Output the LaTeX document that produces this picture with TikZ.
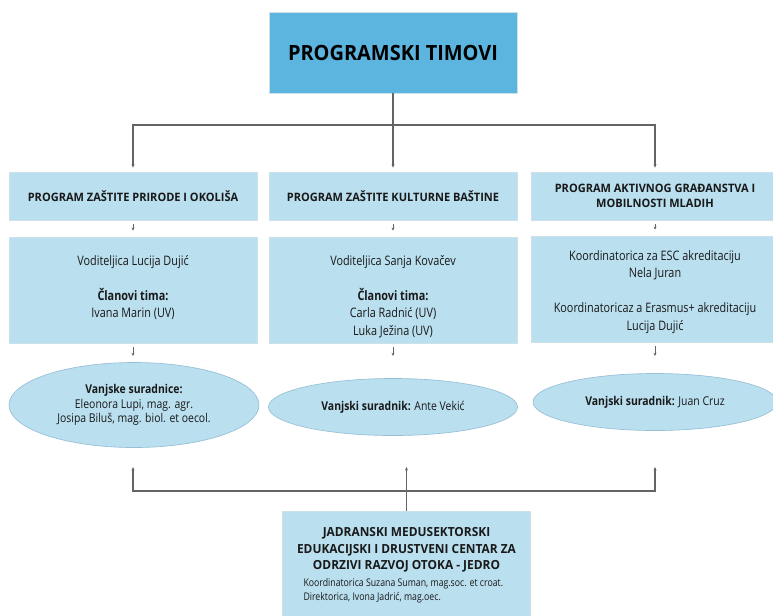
\documentclass[tikz,border=0pt]{standalone}
\usepackage{fontspec}
\setmainfont{Open Sans}[FakeStretch=0.83]
\newfontfamily\headfont{Open Sans}[FakeStretch=0.95]
\newfontfamily\ovalfont{Open Sans}[FakeStretch=0.86]
\usetikzlibrary{arrows.meta,shapes.geometric}

\definecolor{titleblue}{RGB}{91,181,222}
\definecolor{paleblue}{RGB}{186,223,239}
\definecolor{rimblue}{RGB}{205,225,235}
\definecolor{ovalrim}{RGB}{150,192,214}
\definecolor{linkgray}{RGB}{100,100,100}
\definecolor{ink}{RGB}{25,25,25}

\tikzset{every picture/.style={line width=0.75pt}}
\tikzset{
  titlebox/.style={draw=rimblue, fill=titleblue, line width=0.5pt, inner sep=0pt,
    minimum width=186pt, minimum height=60.75pt, text=black,
    font=\headfont\bfseries\fontsize{15.75}{18}\selectfont},
  progbox/.style={draw=rimblue, fill=paleblue, line width=0.5pt, inner sep=0pt,
    minimum width=186pt, minimum height=36pt, align=center, text=ink,
    font=\headfont\bfseries\fontsize{8.7}{11}\selectfont},
  teambox/.style={draw=rimblue, fill=paleblue, line width=0.5pt, inner sep=0pt,
    minimum width=186pt, minimum height=79.5pt},
  teamtext/.style={anchor=north, inner sep=0pt, align=center, text=ink,
    font=\fontsize{9.8}{13.1}\selectfont},
  oval/.style={ellipse, draw=ovalrim, fill=paleblue, line width=0.5pt, inner sep=0pt,
    align=center, text=ink, font=\ovalfont\fontsize{9.1}{10.9}\selectfont},
  linkline/.style={draw=linkgray, line width=0.9pt},
  tiparrow/.style={linkline, -{Stealth[length=2.6pt,width=2.2pt]}},
  tinyarrow/.style={draw=linkgray, line width=0.6pt, -{Stealth[length=2.4pt,width=2.2pt]}, shorten <=3pt}
}

\begin{document}
\begin{tikzpicture}[x=0.75pt,y=0.75pt,yscale=-1,xscale=1]
\useasboundingbox (0,0) rectangle (773,615);

%Shape: Rectangle [top]
\node[titlebox] (top) at (393,52.5) {PROGRAMSKI TIMOVI};

%Shape: Rectangle [programs]
\node[progbox] (p1) at (133,196) {PROGRAM ZAŠTITE PRIRODE I OKOLIŠA};
\node[progbox] (p2) at (393,196) {PROGRAM ZAŠTITE KULTURNE BAŠTINE};
\node[progbox] (p3) at (655,196) {PROGRAM AKTIVNOG GRAĐANSTVA I\\MOBILNOSTI MLADIH};

%Shape: Rectangle [teams]
\node[teambox] (d1) at (133,290) {};
\node[teambox] (d2) at (393,290) {};
\node[teambox] (d3) at (655,289) {};

% Text Node
\node[teamtext] (d1t) at (133,255) {Voditeljica Lucija Dujić\\[13.1pt]\textbf{Članovi tima:}\\Ivana Marin (UV)};
% Text Node
\node[teamtext] (d2t) at (393,255) {Voditeljica Sanja Kovačev\\[13.1pt]\textbf{Članovi tima:}\\Carla Radnić (UV)\\Luka Ježina (UV)};
% Text Node
\node[teamtext] (d3t) at (655,250) {Koordinatorica za ESC akreditaciju\\Nela Juran\\[13.1pt]Koordinatoricaz a Erasmus+ akreditaciju\\Lucija Dujić};

%Shape: Ellipse [external]
\node[oval, minimum width=187.5pt, minimum height=63.75pt] (e1) at (134,405) {\textbf{Vanjske suradnice:}\\Eleonora Lupi, mag. agr.\\Josipa Biluš, mag. biol. et oecol.};
\node[oval, minimum width=186.75pt, minimum height=42.75pt] (e2) at (393,407) {\textbf{Vanjski suradnik:} Ante Vekić};
\node[oval, minimum width=183pt, minimum height=42.75pt] (e3) at (655,402) {\textbf{Vanjski suradnik:} Juan Cruz};

%Shape: Rectangle [centre]
\node[teambox, minimum height=85.5pt] (jedro) at (406.5,568) {};
% Text Node
\node[inner sep=0pt, align=center, text=ink, font=\headfont\bfseries\fontsize{9.4}{12.4}\selectfont] (jt) at (406.5,550) {JADRANSKI MEDUSEKTORSKI\\EDUKACIJSKI I DRUSTVENI CENTAR ZA\\ODRZIVI RAZVOJ OTOKA - JEDRO};
% Text Node
\node[anchor=north west, inner sep=0pt, align=left, text=ink, font=\fontsize{7.9}{10.5}\selectfont] (js) at (303,578) {Koordinatorica Suzana Suman, mag.soc. et croat.\\Direktorica, Ivona Jadrić, mag.oec.};

%Straight Lines [top links]
\coordinate (tbar) at (393,125);
\draw[linkline] (top.south) -- (tbar);
\draw[tiparrow, shorten >=3pt] (tbar) -| (p1.north);
\draw[tiparrow, shorten >=3pt] (tbar) -- (p2.north);
\draw[tiparrow, shorten >=3pt] (tbar) -| (p3.north);

%Straight Lines [small steps]
\coordinate (k1) at (133,356);
\coordinate (k2) at (393,356);
\coordinate (k3) at (655,356);
\draw[tinyarrow, shorten >=4.5pt] (p1.south) -- (d1.north);
\draw[tinyarrow, shorten >=4.5pt] (p2.south) -- (d2.north);
\draw[tinyarrow, shorten >=4.5pt] (p3.south) -- (d3.north);
\draw[tinyarrow] (d1.south) -- (k1);
\draw[tinyarrow] (d2.south) -- (k2);
\draw[tinyarrow] (d3.south) -- (k3);

%Straight Lines [bottom links]
\coordinate (jbar) at (406.5,491);
\coordinate (j1) at (133,467);
\coordinate (j2) at (406.5,467);
\coordinate (j3) at (655,467);
\draw[tiparrow] (jedro.north) -- (j2);
\draw[tiparrow] (jbar) -| (j1);
\draw[tiparrow] (jbar) -| (j3);

\end{tikzpicture}
\end{document}
